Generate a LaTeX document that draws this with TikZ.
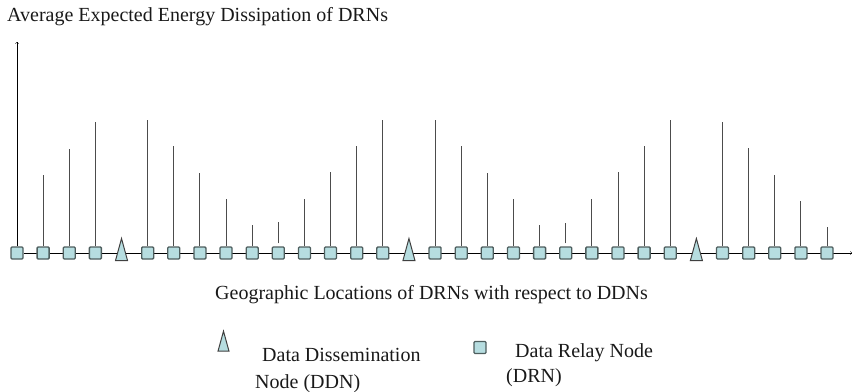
\documentclass[tikz,border=0pt]{standalone}
\usepackage{fontspec}
\setmainfont{Liberation Serif}
\usetikzlibrary{shapes.geometric, backgrounds}
\definecolor{nodefill}{HTML}{B6DDE0}
\definecolor{nodeedge}{HTML}{4E5E5E}
\begin{document}
\begin{tikzpicture}[x=1pt, y=-1pt,
		drn/.style={draw=nodeedge, fill=nodefill, line width=1.3pt, rounded corners=1pt, minimum size=12pt, inner sep=0pt},
		ddn/.style={draw=black!75, fill=nodefill, line width=1pt, isosceles triangle, isosceles triangle stretches, shape border rotate=90, minimum width=12pt, minimum height=22pt, inner sep=0pt},
		stem/.style={draw=black!70, line width=1pt},
		txt/.style={anchor=base west, inner sep=0pt, font=\fontsize{20}{24}\selectfont, text=black!90}]
			\useasboundingbox (0,0) rectangle (853,391);
			
			%relay nodes with their energy
			\foreach \i/\h in {0/42, 1/175, 2/149, 3/122, 5/120, 6/146, 7/173, 8/199, 9/225, 10/222, 11/199, 12/172, 13/146, 14/120, 16/120, 17/146, 18/173, 19/199, 20/225, 21/223, 22/199, 23/172, 24/146, 25/120, 27/122, 28/148, 29/175, 30/201, 31/227}{
				\node[drn] (n\i) at ({17+26.13*\i}, 253){};
				\coordinate (h\i) at ({17+26.13*\i}, \h);
			}
			%dissemination nodes
			\foreach \i in {4, 15, 26}{
				\node[ddn, anchor=south] (n\i) at ({17+26.13*\i}, 261){};
			}
			
			%location axis
			\coordinate (xend) at (852, 253);
			\begin{pgfonlayer}{background}
				\draw[->] (n0) -- (xend);
			\end{pgfonlayer}
			
			%energy axis
			\draw[->] (n0) -- (h0);
			\foreach \i/\g in {1/0, 2/0, 3/0, 5/0, 6/0, 7/0, 8/0, 9/0, 10/3, 11/0, 12/0, 13/0, 14/0, 16/0, 17/0, 18/0, 19/0, 20/0, 21/3, 22/0, 23/0, 24/0, 25/0, 27/0, 28/0, 29/0, 30/0, 31/0}{
				\draw[stem, shorten <=\g pt] (n\i) -- (h\i);
			}
			
			\node[txt] (title) at (7, 21){Average Expected Energy Dissipation of DRNs};
			\node[txt] (xlabel) at (215, 299){Geographic Locations of DRNs with respect to DDNs};
			
			%legend
			\node[ddn, minimum width=11pt, minimum height=20pt] (keyddn) at (223.5, 347){};
			\node[txt] (ddnone) at (262, 361.5){Data Dissemination};
			\node[txt] (ddntwo) at (255, 388){Node (DDN)};
			\node[drn] (keydrn) at (480, 347.5){};
			\node[txt] (drnone) at (515, 357){Data Relay Node};
			\node[txt] (drntwo) at (506, 382){(DRN)};
		\end{tikzpicture}
\end{document}
